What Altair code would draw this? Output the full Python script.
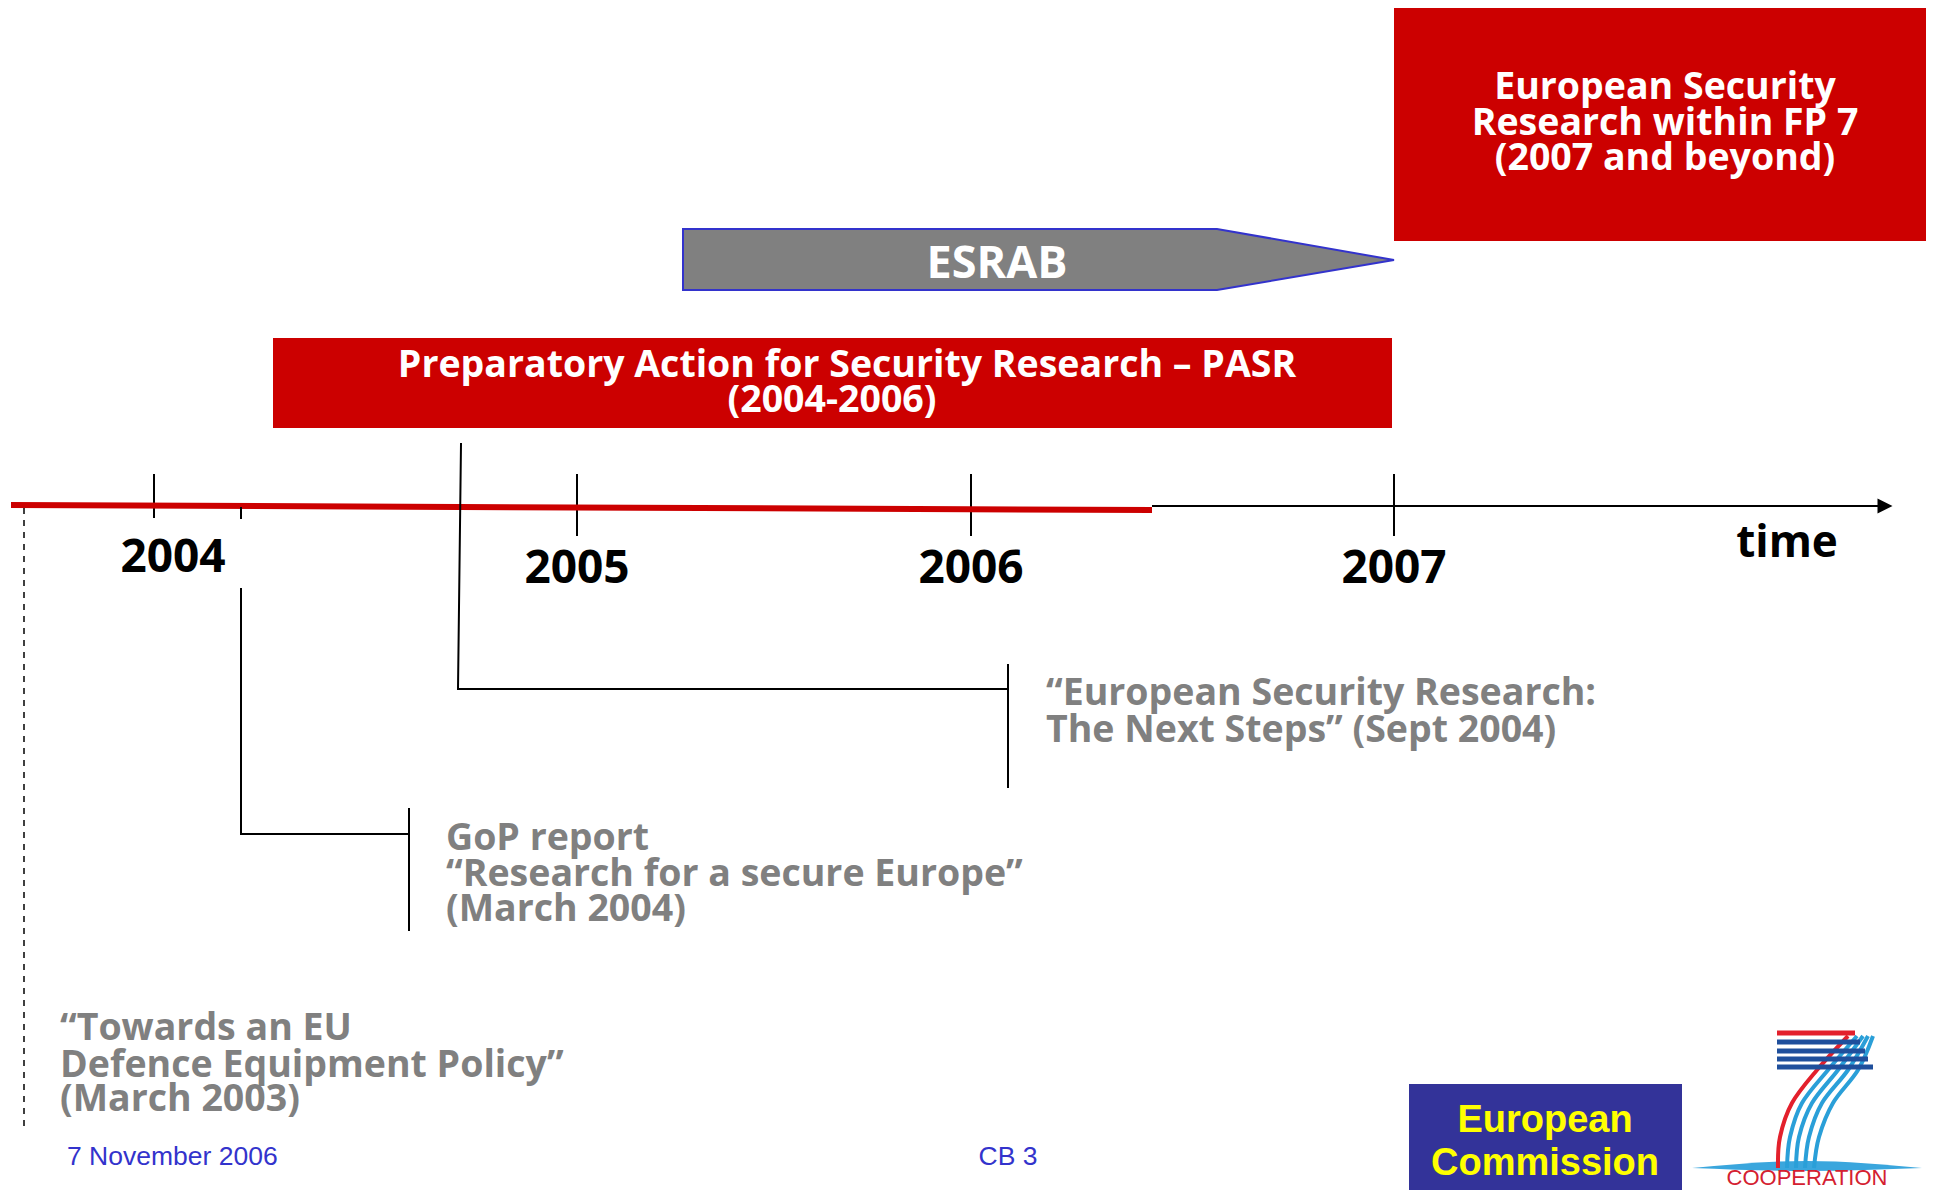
import altair as alt
import pandas as pd

# ------------------------------------------------------------------
# Layout space: x from left, y from top (page pixels of the slide)
# ------------------------------------------------------------------
X_DOMAIN = [8, 1926]
Y_DOMAIN = [8, 1190]

# Timeline: year ticks and labels
year_labels = ["2004", "2005", "2006", "2007"]
year_tick_x = [154, 577, 971, 1394]
year_tick_top = [474, 474, 474, 474]
year_tick_bottom = [518, 536, 536, 536]
year_label_x = [173, 577, 971, 1394]
year_label_base = [572, 583, 583, 583]

# Red PASR period line (start -> end) and black time axis
red_line_x = [11, 1152]
red_line_y = [505, 510]
axis_x = [1152, 1880]
axis_y = [506, 506]
arrow_x = [1885]
arrow_y = [506]

# Red boxes
box_names = ["PASR", "FP7"]
box_x1 = [273, 1394]
box_x2 = [1392, 1926]
box_y1 = [338, 7]
box_y2 = [428, 241]

# ESRAB arrow outline (x, top, bottom)
esrab_x = [683, 1217, 1394]
esrab_top = [229, 229, 260]
esrab_bottom = [290, 290, 260]

# Connector lines (x, y, x2, y2)
conn_x1 = [241, 241, 241, 409, 461, 458, 1008]
conn_y1 = [508, 589, 834, 809, 444, 689, 665]
conn_x2 = [241, 241, 409, 409, 458, 1008, 1008]
conn_y2 = [518, 834, 834, 930, 689, 689, 787]
dash_x = [24]
dash_y1 = [508]
dash_y2 = [1132]

# Texts
white_lines = ["Preparatory Action for Security Research \u2013 PASR", "(2004-2006)",
               "European Security", "Research within FP 7", "(2007 and beyond)"]
white_x = [847, 832, 1665, 1665, 1665]
white_base = [377, 412, 99, 135, 170]

gray_lines = ["\u201cEuropean Security Research:", "The Next Steps\u201d (Sept 2004)",
              "GoP report", "\u201cResearch for a secure Europe\u201d", "(March 2004)",
              "\u201cTowards an EU", "Defence Equipment Policy\u201d", "(March 2003)"]
gray_x = [1046, 1046, 446, 446, 446, 60, 60, 60]
gray_base = [705, 742, 850, 886, 921, 1040, 1077, 1111]

footer_texts = ["7 November 2006", "CB 3"]
footer_x = [67, 1008]
footer_align = ["left", "center"]
footer_base = [1165, 1165]

# European Commission box
ec_box = [1409, 1682, 1084, 1190]
ec_lines = ["European", "Commission"]
ec_x = [1545, 1545]
ec_base = [1132, 1175]

# FP7 logo: stripes, curves, horizon
stripe_x1 = [1777, 1777, 1777, 1777, 1777]
stripe_x2 = [1855, 1860, 1865, 1868, 1873]
stripe_y = [1033, 1042, 1051, 1059, 1067]
stripe_color = ["#e3202c", "#1f4f9c", "#1f4f9c", "#1f4f9c", "#1f4f9c"]
curve_y = [1036, 1070, 1103, 1137, 1168]
curve_red = [1848, 1817, 1792, 1780, 1778]
curve_b1 = [1857, 1828, 1802, 1790, 1787]
curve_b2 = [1863, 1838, 1812, 1799, 1796]
curve_b3 = [1868, 1848, 1822, 1809, 1805]
curve_b4 = [1873, 1858, 1833, 1819, 1814]
horizon_x = [1692, 1807, 1922]
horizon_top = [1168, 1161, 1168]
horizon_bottom = [1168, 1171, 1168]
logo_text_x = [1807]
logo_text_base = [1185]

RED = "#cc0000"
GRAY = "#808080"
BLUE = "#3333cc"

xs = alt.Scale(domain=X_DOMAIN, nice=False, zero=False)
ys = alt.Scale(domain=Y_DOMAIN, nice=False, zero=False, reverse=True)


def X(f="x"):
    return alt.X(f"{f}:Q", scale=xs, axis=None)


def Y(f="y"):
    return alt.Y(f"{f}:Q", scale=ys, axis=None)


layers = []

# red boxes
boxes = pd.DataFrame({"name": box_names, "x": box_x1, "x2": box_x2, "y": box_y1, "y2": box_y2})
layers.append(alt.Chart(boxes).mark_rect(color=RED).encode(x=X(), x2="x2:Q", y=Y(), y2="y2:Q"))

# ESRAB arrow
esrab = pd.DataFrame({"x": esrab_x, "y": esrab_top, "y2": esrab_bottom})
layers.append(alt.Chart(esrab).mark_area(color=GRAY, stroke=BLUE, strokeWidth=2, opacity=1)
              .encode(x=X(), y=Y(), y2="y2:Q"))

# black axis and arrow head
axis_df = pd.DataFrame({"x": [axis_x[0]], "y": [axis_y[0]], "x2": [axis_x[1]], "y2": [axis_y[1]]})
layers.append(alt.Chart(axis_df).mark_rule(color="black", strokeWidth=2)
              .encode(x=X(), y=Y(), x2="x2:Q", y2="y2:Q"))
arrow = pd.DataFrame({"x": arrow_x, "y": arrow_y})
layers.append(alt.Chart(arrow).mark_point(shape="M-1,-1L1,0L-1,1Z", size=225, filled=True,
                                          color="black", opacity=1)
              .encode(x=X(), y=Y()))

# year ticks
ticks = pd.DataFrame({"x": year_tick_x, "y": year_tick_top, "y2": year_tick_bottom})
layers.append(alt.Chart(ticks).mark_rule(color="black", strokeWidth=2)
              .encode(x=X(), y=Y(), y2="y2:Q"))

# red PASR line
red_df = pd.DataFrame({"x": [red_line_x[0]], "y": [red_line_y[0]], "x2": [red_line_x[1]], "y2": [red_line_y[1]]})
layers.append(alt.Chart(red_df).mark_rule(color=RED, strokeWidth=6)
              .encode(x=X(), y=Y(), x2="x2:Q", y2="y2:Q"))

# connectors
conn = pd.DataFrame({"x": conn_x1, "y": conn_y1, "x2": conn_x2, "y2": conn_y2})
layers.append(alt.Chart(conn).mark_rule(color="black", strokeWidth=2, strokeCap="square")
              .encode(x=X(), y=Y(), x2="x2:Q", y2="y2:Q"))
dash = pd.DataFrame({"x": dash_x, "y": dash_y1, "y2": dash_y2})
layers.append(alt.Chart(dash).mark_rule(color="black", strokeWidth=1.5, strokeDash=[6, 6])
              .encode(x=X(), y=Y(), y2="y2:Q"))


def text_layer(texts, x, y, color, size, font, weight="bold", align="center"):
    df = pd.DataFrame({"t": texts, "x": x, "y": y})
    return alt.Chart(df).mark_text(color=color, fontSize=size, font=font, fontWeight=weight,
                                   align=align, baseline="alphabetic").encode(x=X(), y=Y(), text="t:N")


layers.append(text_layer(year_labels, year_label_x, year_label_base, "black", 46, "Open Sans"))
layers.append(text_layer(["time"], [1787], [557], "black", 44, "Open Sans"))
layers.append(text_layer(["ESRAB"], [997], [278], "white", 45, "Open Sans"))
layers.append(text_layer(white_lines, white_x, white_base, "white", 37.5, "Open Sans"))
layers.append(text_layer(gray_lines, gray_x, gray_base, GRAY, 37.5, "Open Sans", align="left"))
for t, x, a, b in zip(footer_texts, footer_x, footer_align, footer_base):
    layers.append(text_layer([t], [x], [b], BLUE, 26.5, "Liberation Sans", weight="normal", align=a))

# European Commission box
ec = pd.DataFrame({"x": [ec_box[0]], "x2": [ec_box[1]], "y": [ec_box[2]], "y2": [ec_box[3]]})
layers.append(alt.Chart(ec).mark_rect(color="#333399").encode(x=X(), x2="x2:Q", y=Y(), y2="y2:Q"))
layers.append(text_layer(ec_lines, ec_x, ec_base, "#ffff00", 38, "Liberation Sans"))

# FP7 logo
hz = pd.DataFrame({"x": horizon_x, "y": horizon_top, "y2": horizon_bottom})
layers.append(alt.Chart(hz).mark_area(color="#3aa6dd", interpolate="monotone", opacity=1)
              .encode(x=X(), y=Y(), y2="y2:Q"))
curves = []
for name, xs_ in [("red", curve_red), ("b1", curve_b1), ("b2", curve_b2), ("b3", curve_b3), ("b4", curve_b4)]:
    for i, (cx, cy) in enumerate(zip(xs_, curve_y)):
        curves.append({"c": name, "i": i, "x": cx, "y": cy})
curves = pd.DataFrame(curves)
layers.append(alt.Chart(curves).mark_line(interpolate="cardinal", strokeWidth=4)
              .encode(x=X(), y=Y(), detail="c:N", order="i:Q",
                      color=alt.Color("c:N", scale=alt.Scale(domain=["red", "b1", "b2", "b3", "b4"],
                                                             range=["#e3202c", "#2a9fd8", "#2a9fd8", "#2a9fd8", "#2a9fd8"]),
                                      legend=None)))
stripes = pd.DataFrame({"x": stripe_x1, "x2": stripe_x2, "y": stripe_y, "col": stripe_color})
layers.append(alt.Chart(stripes).mark_rule(strokeWidth=5)
              .encode(x=X(), x2="x2:Q", y=Y(), color=alt.Color("col:N", scale=None)))
layers.append(text_layer(["COOPERATION"], logo_text_x, logo_text_base, "#d42030", 22,
                         "Liberation Sans", weight="normal"))

chart = alt.layer(*layers).properties(
    width=1918, height=1182, padding=0, autosize=alt.AutoSizeParams(type="none")
).configure_view(stroke=None)

chart.save("out.html", embed_options={"renderer": "svg", "actions": False})
